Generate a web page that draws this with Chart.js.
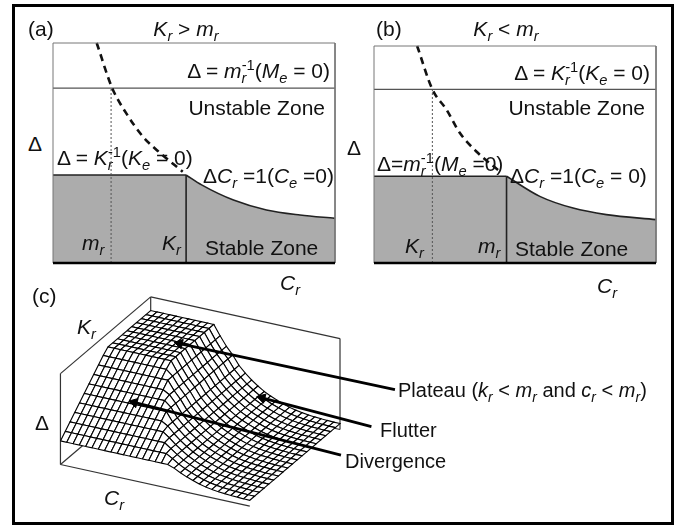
<!DOCTYPE html>
<html lang="en">
<head>
<meta charset="UTF-8">
<title>Stability zones</title>
<script src="https://cdn.jsdelivr.net/npm/chart.js"></script>
<style>
  body { margin: 0; background: #fff; width: 681px; height: 525px; overflow: hidden; position: relative;
         font-family: "Liberation Sans", Arial, sans-serif; }
  .frame { position: absolute; left: 12px; top: 4px; width: 662px; height: 521px; box-sizing: border-box; border: 3px solid #000; }
  canvas { position: absolute; }
  .lb { position: absolute; white-space: nowrap; font-size: 21px; line-height: 1; color: #111; }
  .s20 { font-size: 20px; }
  .c { transform: translateX(-50%); }
  sub, sup { font-size: 0.7em; line-height: 0; }
  sup.ov { margin-left: -0.33em; }
</style>
</head>
<body>
<div class="frame"></div>
<canvas id="chartA" width="302" height="240" style="left:43px;top:33px;width:302px;height:240px"></canvas>
<canvas id="chartB" width="302" height="237" style="left:364px;top:36px;width:302px;height:237px"></canvas>
<canvas id="chartC" width="681" height="245" style="left:0;top:280px;width:681px;height:245px"></canvas>

<!-- (a) -->
<div class="lb" style="left:28px;top:18px">(a)</div>
<div class="lb c" style="left:186px;top:18px"><i>K<sub>r</sub></i> &gt; <i>m<sub>r</sub></i></div>
<div class="lb" style="right:351px;top:60px">Δ = <i>m<sub>r</sub></i><sup class="ov">-1</sup>(<i>M<sub>e</sub></i> = 0)</div>
<div class="lb" style="right:356px;top:97px">Unstable Zone</div>
<div class="lb" style="left:28px;top:133px">Δ</div>
<div class="lb" style="left:57px;top:147px">Δ = <i>K<sub>r</sub></i><sup class="ov">-1</sup>(<i>K<sub>e</sub></i> = 0)</div>
<div class="lb" style="left:203px;top:165px">Δ<i>C<sub>r</sub></i> =1(<i>C<sub>e</sub></i> =0)</div>
<div class="lb" style="left:82px;top:232px"><i>m<sub>r</sub></i></div>
<div class="lb" style="left:162px;top:232px"><i>K<sub>r</sub></i></div>
<div class="lb" style="left:205px;top:237px">Stable Zone</div>
<div class="lb" style="left:280px;top:272px"><i>C<sub>r</sub></i></div>

<!-- (b) -->
<div class="lb" style="left:376px;top:18px">(b)</div>
<div class="lb c" style="left:506px;top:18px"><i>K<sub>r</sub></i> &lt; <i>m<sub>r</sub></i></div>
<div class="lb" style="right:31px;top:62px">Δ = <i>K<sub>r</sub></i><sup class="ov">-1</sup>(<i>K<sub>e</sub></i> = 0)</div>
<div class="lb" style="right:36px;top:97px">Unstable Zone</div>
<div class="lb" style="left:347px;top:137px">Δ</div>
<div class="lb" style="left:377px;top:153px">Δ=<i>m<sub>r</sub></i><sup class="ov">-1</sup>(<i>M<sub>e</sub></i> =0)</div>
<div class="lb" style="left:510px;top:165px">Δ<i>C<sub>r</sub></i> =1(<i>C<sub>e</sub></i> = 0)</div>
<div class="lb" style="left:405px;top:235px"><i>K<sub>r</sub></i></div>
<div class="lb" style="left:478px;top:235px"><i>m<sub>r</sub></i></div>
<div class="lb" style="left:515px;top:238px">Stable Zone</div>
<div class="lb" style="left:597px;top:275px"><i>C<sub>r</sub></i></div>

<!-- (c) -->
<div class="lb" style="left:32px;top:285px">(c)</div>
<div class="lb" style="left:77px;top:316px"><i>K<sub>r</sub></i></div>
<div class="lb" style="left:35px;top:412px">Δ</div>
<div class="lb" style="left:104px;top:487px"><i>C<sub>r</sub></i></div>
<div class="lb s20" style="left:398px;top:380px">Plateau (<i>k<sub>r</sub></i> &lt; <i>m<sub>r</sub></i> and <i>c<sub>r</sub></i> &lt; <i>m<sub>r</sub></i>)</div>
<div class="lb s20" style="left:380px;top:420px">Flutter</div>
<div class="lb s20" style="left:345px;top:451px">Divergence</div>

<script>
// panel (a), K_r > m_r  (C_r and Δ scaled 0..1 over the plot box)
const levelsA = [0.795, 0.40];            // Δ = 1/m_r line, plateau Δ = 1/K_r
const marksA = [0.206, 0.472];            // m_r (dotted), K_r (solid) on C_r
const curveCrA = [0.472, 0.527, 0.64, 0.757, 0.876, 1.0];
const curveDeltaA = [0.40, 0.355, 0.286, 0.241, 0.218, 0.203];
const dashCrA = [0.155, 0.21, 0.26, 0.32, 0.38, 0.46];
const dashDeltaA = [1.0, 0.795, 0.68, 0.573, 0.50, 0.415];

// panel (b), K_r < m_r
const levelsB = [0.80, 0.40];
const marksB = [0.207, 0.47];
const curveCrB = [0.47, 0.588, 0.706, 0.824, 1.0];
const curveDeltaB = [0.40, 0.307, 0.253, 0.223, 0.20];
const dashCrB = [0.153, 0.207, 0.257, 0.304, 0.363, 0.446];
const dashDeltaB = [1.0, 0.80, 0.707, 0.60, 0.514, 0.422];

// panel (c): critical Δ along C_r (back edge) and along K_r (left edge, front -> back)
const crProfile = [0.85, 0.85, 0.85, 0.85, 0.85, 0.85, 0.85, 0.85, 0.85, 0.85, 0.85,
                   0.74, 0.64, 0.56, 0.46, 0.39, 0.33, 0.28, 0.235, 0.20, 0.17,
                   0.145, 0.122, 0.105, 0.093, 0.083, 0.077, 0.072, 0.069, 0.066, 0.065];
const krProfile = [0.26, 0.32, 0.38, 0.44, 0.50, 0.56, 0.62, 0.68, 0.74, 0.80,
                   0.85, 0.85, 0.85, 0.85, 0.85, 0.85, 0.85, 0.85, 0.85, 0.85];
const arrowLabels = ['Plateau', 'Flutter', 'Divergence'];
const arrowTipCr = [0.256, 0.594, 0.226];
const arrowTipKr = [0.724, 0.93, 0.286];

// layout of panel (c)
const VIEW = { cr: [193, -44], kr: [92, 81], delta: 96, x0: 55, y0: 468 };
const arrowTails = [[396, 389], [372, 428], [341, 458]];

const pts = (xs, ys) => xs.map((x, i) => ({ x, y: ys[i] }));
const line = d => Object.assign({ showLine: true, pointRadius: 0, fill: false }, d);
const baseOptions = (scales, padding) => ({
  responsive: false, animation: false, events: [], devicePixelRatio: 1,
  layout: { padding },
  scales,
  plugins: { legend: { display: false }, tooltip: { enabled: false } }
});

function phasePanel(id, levels, marks, curveCr, curveDelta, dashCr, dashDelta) {
  const grey = '#acacac', ink = '#222';
  new Chart(document.getElementById(id), {
    type: 'scatter',
    data: { datasets: [
      line({ data: pts([0, marks[1]], [levels[1], levels[1]]), fill: 'origin', backgroundColor: grey, borderColor: ink, borderWidth: 1.6, order: 9 }),
      line({ data: pts(curveCr, curveDelta), fill: 'origin', backgroundColor: grey, borderColor: ink, borderWidth: 1.6, cubicInterpolationMode: 'monotone', order: 8 }),
      line({ data: pts([marks[1], marks[1]], [0, levels[1]]), borderColor: ink, borderWidth: 1.6, order: 6 }),
      line({ data: pts([marks[0], marks[0]], [0, levels[0]]), borderColor: '#555', borderWidth: 1, borderDash: [2, 2], order: 5 }),
      line({ data: pts([0, 1], [levels[0], levels[0]]), borderColor: '#555', borderWidth: 1.2, order: 5 }),
      line({ data: pts(dashCr, dashDelta), borderColor: '#111', borderWidth: 2.6, borderDash: [7, 5], cubicInterpolationMode: 'monotone', clip: false, order: 4 }),
      line({ data: pts([0, 0, 1, 1], [0, 1, 1, 0]), borderColor: '#777', borderWidth: 1, clip: false, order: 3 }),
      line({ data: pts([0, 1], [0, 0]), borderColor: '#000', borderWidth: 2.5, clip: false, order: 2 })
    ] },
    options: baseOptions({
      x: { type: 'linear', min: 0, max: 1, display: false },
      y: { type: 'linear', min: 0, max: 1, display: false }
    }, 10)
  });
}

phasePanel('chartA', levelsA, marksA, curveCrA, curveDeltaA, dashCrA, dashDeltaA);
phasePanel('chartB', levelsB, marksB, curveCrB, curveDeltaB, dashCrB, dashDeltaB);

// ---- panel (c): surface Δ(C_r, K_r) ----
const nC = crProfile.length - 1, nK = krProfile.length - 1;
const project = (u, v, h) => ({
  x: VIEW.cr[0] * u + VIEW.kr[0] * v,
  y: VIEW.cr[1] * u + VIEW.kr[1] * v + VIEW.delta * h
});
const height = (j, i) => Math.min(crProfile[j], krProfile[i]);
const node = (j, i) => project(j / nC, i / nK, height(j, i));

const cells = [];
for (let i = 0; i < nK; i++) {
  for (let j = 0; j < nC; j++) {
    cells.push({
      near: (j + 0.5) / nC - 2.1 * (i + 0.5) / nK,
      data: [node(j, i), node(j + 1, i), node(j + 1, i + 1), node(j, i + 1), node(j, i)]
    });
  }
}
cells.sort((a, b) => a.near - b.near); // far cells first

const surface = cells.map((c, k) => line({
  data: c.data, fill: 'shape', backgroundColor: '#fff', borderColor: '#000', borderWidth: 1.1,
  order: 2000 - k
}));

const boxEdges = [
  [[0, 0, 1], [0, 1, 1]], [[0, 1, 1], [1, 1, 1]], [[1, 1, 0], [1, 1, 1]], [[0, 1, 0], [0, 1, 1]],
  [[0, 0, 0], [0, 0, 1]], [[0, 0, 0], [1, 0, 0]], [[0, 0, 0], [0, 1, 0]], [[0, 1, 0], [1, 1, 0]]
];
const box = boxEdges.map(e => line({
  data: e.map(p => project(p[0], p[1], p[2])), borderColor: '#333', borderWidth: 1.2, order: 5000
}));

const arrows = [];
arrowLabels.forEach((name, k) => {
  const j = Math.round(arrowTipCr[k] * nC), i = Math.round(arrowTipKr[k] * nK);
  const tip = project(arrowTipCr[k], arrowTipKr[k], height(j, i));
  const tail = { x: arrowTails[k][0] - VIEW.x0, y: VIEW.y0 - arrowTails[k][1] };
  const dx = tip.x - tail.x, dy = tip.y - tail.y, len = Math.hypot(dx, dy);
  const r = 5.5;
  const head = { x: tip.x - dx / len * r, y: tip.y - dy / len * r };
  arrows.push(line({ label: name, data: [tail, head], borderColor: '#000', borderWidth: 2.8, order: 1 }));
  arrows.push({
    label: name + ' head', data: [head], showLine: false,
    pointStyle: 'triangle', pointRadius: r, pointRotation: Math.atan2(dx, dy) * 180 / Math.PI,
    backgroundColor: '#000', borderColor: '#000', borderWidth: 1, order: 0
  });
});

new Chart(document.getElementById('chartC'), {
  type: 'scatter',
  data: { datasets: box.concat(surface, arrows) },
  options: baseOptions({
    x: { type: 'linear', min: -VIEW.x0, max: 681 - VIEW.x0, display: false },
    y: { type: 'linear', min: VIEW.y0 - 280 - 245, max: VIEW.y0 - 280, display: false }
  }, 0)
});
</script>
</body>
</html>
